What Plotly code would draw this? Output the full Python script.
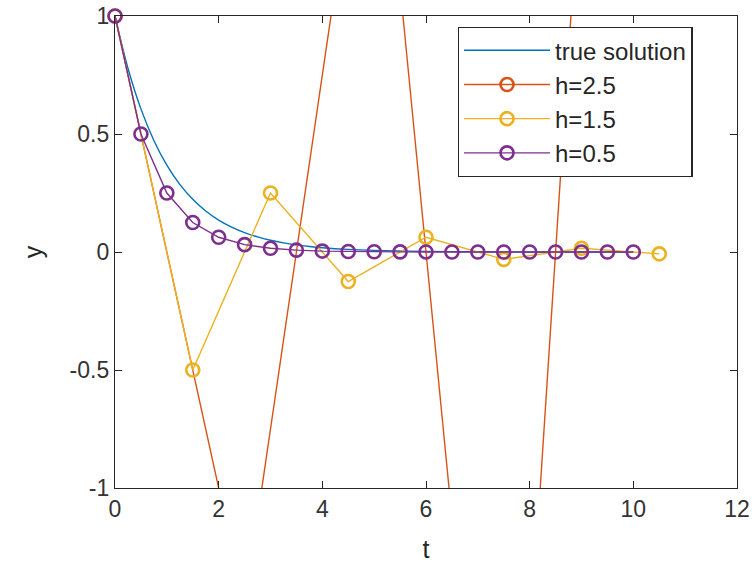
import plotly.graph_objects as go

# true solution y = exp(-t), sampled values
t_true = [0, 0.25, 0.5, 0.75, 1, 1.25, 1.5, 1.75, 2, 2.25, 2.5, 2.75, 3, 3.25, 3.5, 3.75,
          4, 4.5, 5, 6, 7, 8, 9, 10]
y_true = [1, 0.7788, 0.6065, 0.4724, 0.3679, 0.2865, 0.2231, 0.1738, 0.1353, 0.1054, 0.0821,
          0.0639, 0.0498, 0.0388, 0.0302, 0.0235, 0.0183, 0.0111, 0.0067, 0.0025, 0.0009,
          0.0003, 0.0001, 0.0]

t_h25 = [0, 2.5, 5, 7.5, 10]
y_h25 = [1, -1.5, 2.25, -3.375, 5.0625]

t_h15 = [0, 1.5, 3, 4.5, 6, 7.5, 9, 10.5]
y_h15 = [1, -0.5, 0.25, -0.125, 0.0625, -0.03125, 0.015625, -0.0078125]

t_h05 = [0, 0.5, 1, 1.5, 2, 2.5, 3, 3.5, 4, 4.5, 5, 5.5, 6, 6.5, 7, 7.5, 8, 8.5, 9, 9.5, 10]
y_h05 = [1, 0.5, 0.25, 0.125, 0.0625, 0.03125, 0.015625, 0.0078125, 0.00390625, 0.001953,
         0.000977, 0.000488, 0.000244, 0.000122, 0.000061, 0.000031, 0.000015, 0.0000076,
         0.0000038, 0.0000019, 0.00000095]

x_ticks = [0, 2, 4, 6, 8, 10, 12]
y_ticks = [-1, -0.5, 0, 0.5, 1]
y_tick_labels = ["-1", "-0.5", "0", "0.5", "1"]

c_true = "#0072BD"
c_25 = "#D95319"
c_15 = "#EDB120"
c_05 = "#7E2F8E"

mk = dict(symbol="circle-open", size=13, line=dict(width=2.6))

fig = go.Figure()
fig.add_trace(go.Scatter(x=t_true, y=y_true, mode="lines", name="true solution",
                         line=dict(color=c_true, width=1.4, shape="spline")))
fig.add_trace(go.Scatter(x=t_h25, y=y_h25, mode="lines+markers", name="h=2.5",
                         line=dict(color=c_25, width=1.4),
                         marker=dict(color=c_25, **mk)))
fig.add_trace(go.Scatter(x=t_h15, y=y_h15, mode="lines+markers", name="h=1.5",
                         line=dict(color=c_15, width=1.4),
                         marker=dict(color=c_15, **mk), cliponaxis=False))
fig.add_trace(go.Scatter(x=t_h05, y=y_h05, mode="lines+markers", name="h=0.5",
                         line=dict(color=c_05, width=1.4),
                         marker=dict(color=c_05, **mk), cliponaxis=False))

axis_common = dict(showline=True, linecolor="#262626", linewidth=1.3, mirror="ticks",
                   ticks="inside", ticklen=7, tickcolor="#262626", showgrid=False,
                   zeroline=False, tickfont=dict(size=23, color="#333333"),
                   ticklabeloverflow="allow", automargin=False)

fig.update_layout(
    width=756, height=565,
    margin=dict(l=115, r=19, t=16, b=77),
    paper_bgcolor="white", plot_bgcolor="white",
    font=dict(family="Liberation Sans, Arial, sans-serif", color="#262626"),
    xaxis=dict(range=[0, 12], tickvals=x_ticks,
               title=dict(text="t", font=dict(size=25), standoff=19), **axis_common),
    yaxis=dict(range=[-1, 1], tickvals=y_ticks, ticktext=y_tick_labels,
               title=dict(text="y", font=dict(size=25), standoff=19), **axis_common),
    showlegend=True,
    legend=dict(x=0.551, y=0.977, xanchor="left", yanchor="top",
                bgcolor="white", bordercolor="#262626", borderwidth=1.3,
                font=dict(size=24, color="#262626"), itemwidth=86),
)

fig.write_html("out.html", config={"displayModeBar": False},
               post_script="document.body.style.margin='0';document.body.style.padding='0';")
